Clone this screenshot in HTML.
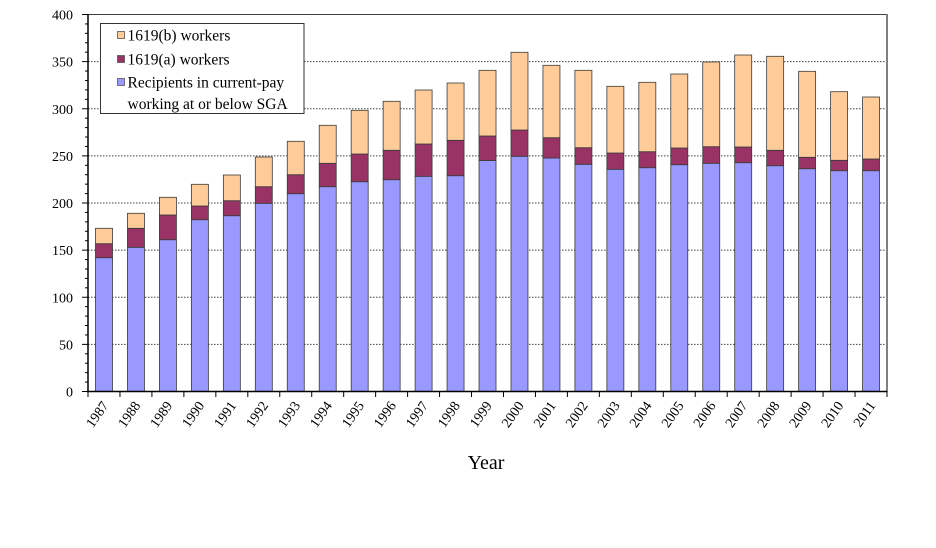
<!DOCTYPE html>
<html><head><meta charset="utf-8"><style>
html,body{margin:0;padding:0;background:#fff;}
svg{display:block;}
text{font-family:"Liberation Serif",serif;fill:#000;}
</style></head><body>
<svg width="936" height="548" viewBox="0 0 936 548" xmlns="http://www.w3.org/2000/svg">
<rect width="936" height="548" fill="#fff"/>
<g stroke="#404040" stroke-width="1" stroke-dasharray="1.5,1.5">
<line x1="88" x2="887" y1="344.4" y2="344.4"/>
<line x1="88" x2="887" y1="297.3" y2="297.3"/>
<line x1="88" x2="887" y1="250.1" y2="250.1"/>
<line x1="88" x2="887" y1="203" y2="203"/>
<line x1="88" x2="887" y1="155.9" y2="155.9"/>
<line x1="88" x2="887" y1="108.8" y2="108.8"/>
<line x1="88" x2="887" y1="61.6" y2="61.6"/>
</g>
<line x1="88" x2="887" y1="14.5" y2="14.5" stroke="#404040" stroke-width="1"/>
<line x1="887" x2="887" y1="14" y2="392" stroke="#808080" stroke-width="2"/>
<g id="bars" stroke="#3a3a3a" stroke-width="0.8"></g>
<g id="xt"></g>
<line x1="88" x2="88" y1="14.5" y2="392" stroke="#000" stroke-width="1.5"/>
<line x1="87" x2="887" y1="391.5" y2="391.5" stroke="#000" stroke-width="1.5"/>
<g id="yt" stroke="#000" stroke-width="1"></g>
<g font-size="14" text-anchor="end">
<text x="73" y="396.5">0</text>
<text x="73" y="349.4">50</text>
<text x="73" y="302.3">100</text>
<text x="73" y="255.1">150</text>
<text x="73" y="208">200</text>
<text x="73" y="160.9">250</text>
<text x="73" y="113.8">300</text>
<text x="73" y="66.6">350</text>
<text x="73" y="19.5">400</text>
</g>
<g id="xl" font-size="14" text-anchor="end"></g>
<text x="486" y="469" font-size="20" text-anchor="middle">Year</text>
<rect x="100.5" y="23.5" width="203.5" height="90" fill="#fff" stroke="#333" stroke-width="1"/>
<rect x="117.5" y="31.5" width="7" height="7" fill="#FFCC99" stroke="#555" stroke-width="0.8"/>
<rect x="117.5" y="55.5" width="7" height="7" fill="#993366" stroke="#555" stroke-width="0.8"/>
<rect x="117.5" y="78.5" width="7" height="7" fill="#9999FF" stroke="#555" stroke-width="0.8"/>
<g font-size="15.5">
<text x="127.5" y="40.5">1619(b) workers</text>
<text x="127.5" y="64.5">1619(a) workers</text>
<text x="127.5" y="87.5">Recipients in current-pay</text>
<text x="127.5" y="109">working at or below SGA</text>
</g>
</svg>
<script>
(function(){
var NS="http://www.w3.org/2000/svg";
var years=[1987,1988,1989,1990,1991,1992,1993,1994,1995,1996,1997,1998,1999,2000,2001,2002,2003,2004,2005,2006,2007,2008,2009,2010,2011];
var peach=[228.3,213.3,197.3,184.3,175,157,141.3,125.3,110.3,101.3,90,83,70.3,52.3,65.3,70.3,86.3,82.3,74,62,55,56.3,71.3,91.7,97];
var maroon=[243.7,228.3,215,206,200.7,186.7,174.7,163.3,154,150.3,144,140.3,136,130,137.7,147.7,153,151.7,148,146.7,147,150.3,157.3,160.3,159];
var blue=[257.7,247.3,239.7,219.7,215.7,203.3,193.7,186.7,181.7,179.7,176.3,175.7,160.5,156.3,158,164.3,169.3,167.7,164.7,163.3,162.7,165.7,168.7,170.7,170.7];
var B=391.5,cw=31.96,x0=88;
var g=document.getElementById('bars'),xt=document.getElementById('xt'),xl=document.getElementById('xl'),yt=document.getElementById('yt');
function r(x,y,w,h,f){var e=document.createElementNS(NS,'rect');e.setAttribute('x',x);e.setAttribute('y',y);e.setAttribute('width',w);e.setAttribute('height',h);e.setAttribute('fill',f);g.appendChild(e);}
function l(p,x1,y1,x2,y2,c){var e=document.createElementNS(NS,'line');e.setAttribute('x1',x1);e.setAttribute('y1',y1);e.setAttribute('x2',x2);e.setAttribute('y2',y2);if(c){e.setAttribute('stroke',c);e.setAttribute('stroke-width','1');}p.appendChild(e);}
for(var i=0;i<25;i++){
 var bx=x0+cw*i+7.5,w=17;
 r(bx,blue[i],w,B-blue[i],'#9999FF');
 r(bx,maroon[i],w,blue[i]-maroon[i],'#993366');
 r(bx,peach[i],w,maroon[i]-peach[i],'#FFCC99');
 var cx=x0+cw*(i+0.5);
 var t=document.createElementNS(NS,'text');
 var px=cx+5,py=405.5;
 t.setAttribute('x',px);t.setAttribute('y',py);
 t.setAttribute('transform','rotate(-55 '+px+' '+py+')');
 t.textContent=years[i];xl.appendChild(t);
}
for(var k=0;k<=25;k++){var xx=x0+cw*k;l(xt,xx,391.5,xx,397,'#000');}
for(var v=0;v<=400;v+=10){var yy=B-v*0.9425;var len=(v%50==0)?6:3;l(yt,88-len,yy,88,yy);}
})();
</script>
</body></html>
